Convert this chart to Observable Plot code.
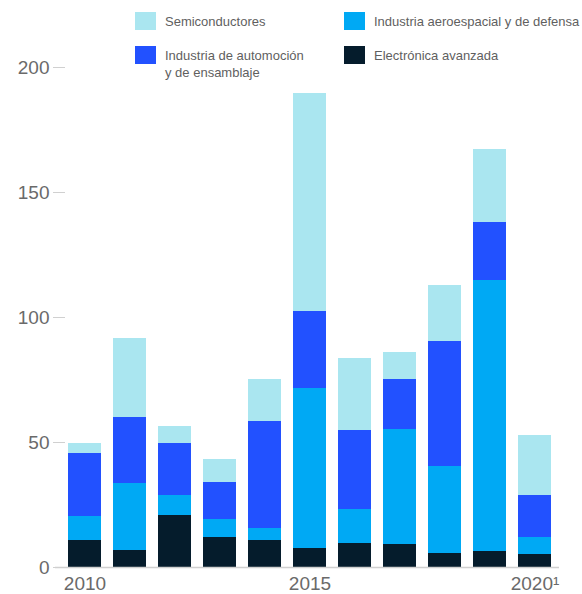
<!DOCTYPE html>
<html>
<head>
<meta charset="utf-8">
<script src="https://cdn.jsdelivr.net/npm/d3@7"></script>
<script src="https://cdn.jsdelivr.net/npm/@observablehq/plot@0.6"></script>
<style>
  html, body { margin: 0; padding: 0; background: #fff; }
  #wrap { position: relative; width: 582px; height: 594px; font-family: "Liberation Sans", Arial, sans-serif; }
  #legend { position: absolute; left: 0; top: 0; width: 582px; height: 90px; }
  .item { position: absolute; display: flex; align-items: flex-start; color: #5f5f5f; font-size: 13px; line-height: 17px; white-space: nowrap; }
  .sw { width: 21px; height: 18px; margin-right: 9px; flex: none; }
  .lab { margin-top: 1px; }
  #chart { position: absolute; left: 0; top: 0; }
</style>
</head>
<body>
<div id="wrap">
  <div id="chart"></div>
  <div id="legend"></div>
</div>
<script>
const years = [2010, 2011, 2012, 2013, 2014, 2015, 2016, 2017, 2018, 2019, 2020];
const electronica = [10.8, 6.8, 20.8, 12, 10.8, 7.6, 9.6, 9.2, 5.6, 6.4, 5.2];
const aeroespacial = [9.6, 26.8, 8, 7.2, 4.8, 64, 13.6, 46, 34.8, 108.4, 6.8];
const automocion = [25.2, 26.4, 20.8, 14.8, 42.8, 30.8, 31.6, 20, 50, 23.2, 16.8];
const semiconductores = [4.0, 31.6, 6.8, 9.2, 16.8, 87.2, 28.8, 10.8, 22.4, 29.2, 24];

const seriesNames = ["Electrónica avanzada", "Industria aeroespacial y de defensa", "Industria de automoción y de ensamblaje", "Semiconductores"];
const seriesColors = ["#051c2c", "#00a9f4", "#2251ff", "#aae6f0"];
const seriesValues = [electronica, aeroespacial, automocion, semiconductores];
const yTicks = [0, 50, 100, 150, 200];
const xTicks = [2010, 2015, 2020];
const xTickLabels = {2010: "2010", 2015: "2015", 2020: "2020¹"};

const legendItems = [
  {name: "Semiconductores", lines: ["Semiconductores"], left: 135, top: 12},
  {name: "Industria aeroespacial y de defensa", lines: ["Industria aeroespacial y de defensa"], left: 344, top: 12},
  {name: "Industria de automoción y de ensamblaje", lines: ["Industria de automoción", "y de ensamblaje"], left: 135, top: 46},
  {name: "Electrónica avanzada", lines: ["Electrónica avanzada"], left: 344, top: 46}
];

const table = [];
seriesNames.forEach((s, i) => {
  years.forEach((y, j) => table.push({year: y, series: s, value: seriesValues[i][j]}));
});

const chart = Plot.plot({
  width: 582,
  height: 594,
  marginTop: 67,
  marginBottom: 27,
  marginLeft: 65,
  marginRight: 29,
  style: {fontFamily: "Liberation Sans, Arial, sans-serif", background: "transparent"},
  x: {type: "band", domain: years, paddingInner: 0.275, paddingOuter: 0, label: null},
  y: {domain: [0, 200], label: null},
  color: {domain: seriesNames, range: seriesColors},
  marks: [
    Plot.barY(table, {x: "year", y: "value", fill: "series", z: "series"}),
    Plot.ruleY([0], {stroke: "#d0d0d0", strokeWidth: 1.5, insetLeft: -10, insetRight: -6}),
    Plot.axisY({ticks: yTicks, tickSize: 12, tickPadding: 4, stroke: "#d0d0d0", fill: "#6a6a6a", fontSize: 19, label: null}),
    Plot.axisX({ticks: xTicks, tickSize: 0, tickPadding: 9, fill: "#6a6a6a", fontSize: 19, tickFormat: d => xTickLabels[d], label: null})
  ]
});
document.getElementById("chart").appendChild(chart);

const legend = document.getElementById("legend");
legendItems.forEach((it) => {
  const idx = seriesNames.indexOf(it.name);
  const div = document.createElement("div");
  div.className = "item";
  div.style.left = it.left + "px";
  div.style.top = it.top + "px";
  const sw = document.createElement("div");
  sw.className = "sw";
  sw.style.background = seriesColors[idx];
  const lab = document.createElement("div");
  lab.className = "lab";
  lab.innerHTML = it.lines.join("<br>");
  div.appendChild(sw);
  div.appendChild(lab);
  legend.appendChild(div);
});
</script>
</body>
</html>
